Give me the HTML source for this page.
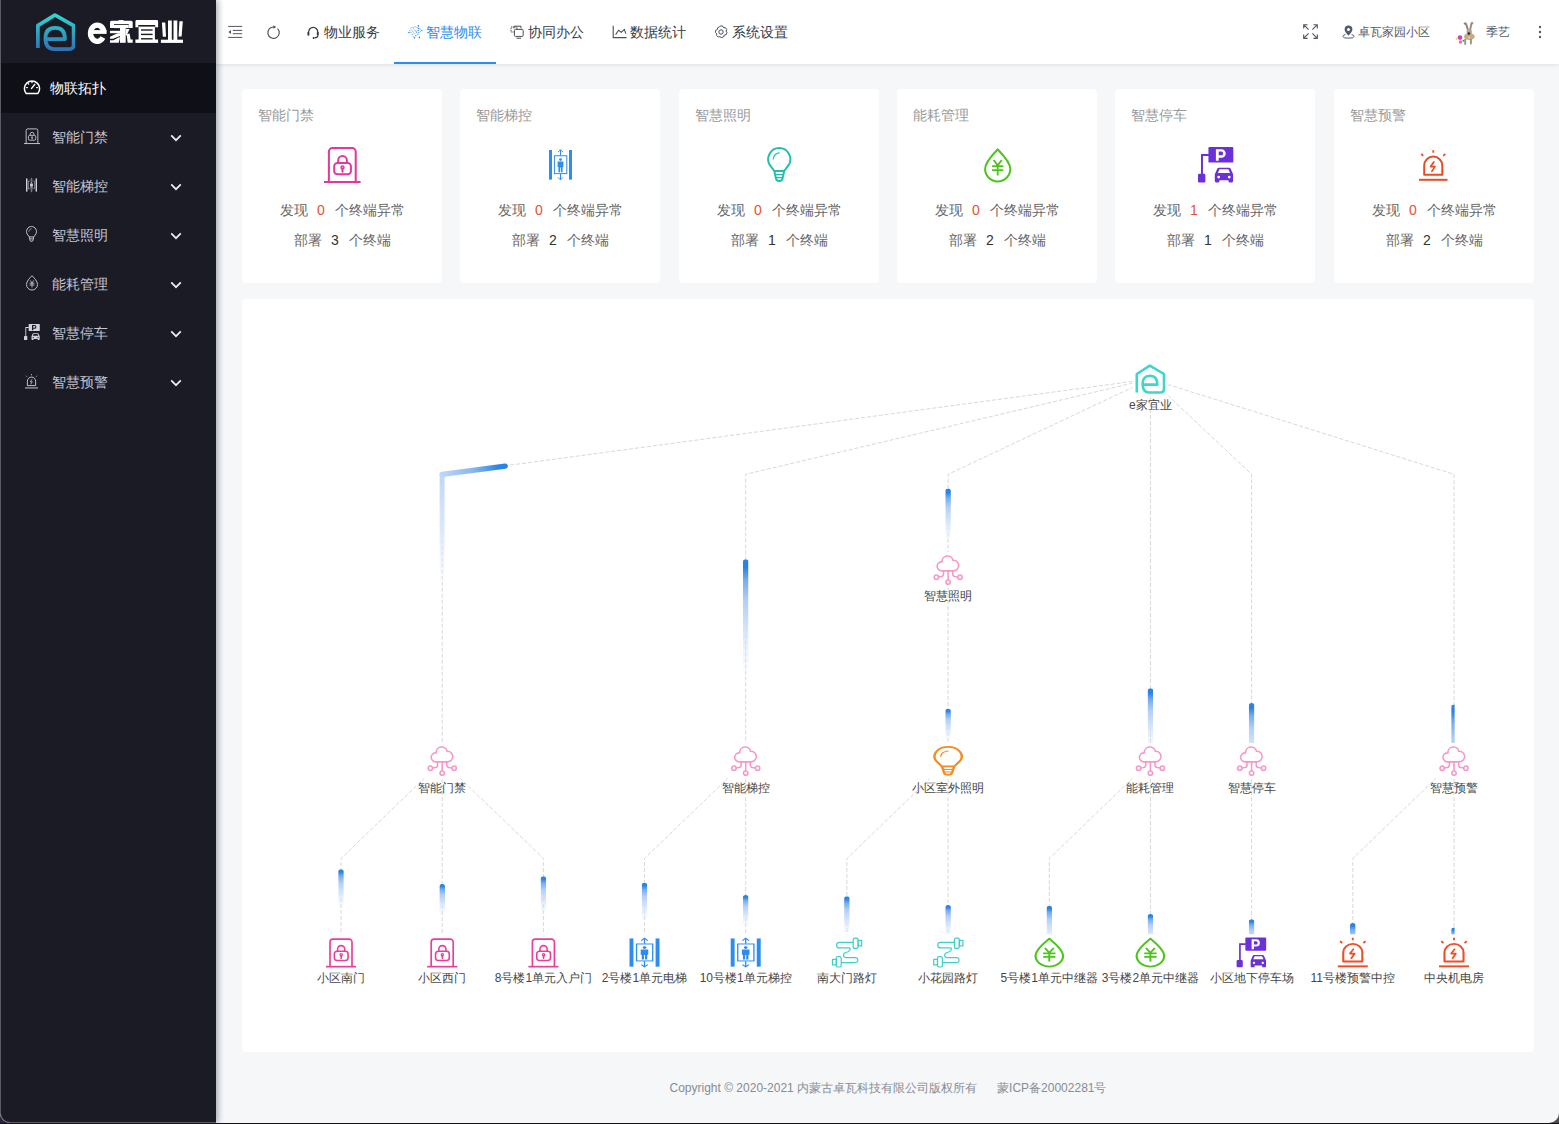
<!DOCTYPE html>
<html lang="zh"><head><meta charset="utf-8"><title>e家宜业</title>
<style>
*{box-sizing:border-box;margin:0;padding:0}
html,body{width:1559px;height:1124px;overflow:hidden;background:linear-gradient(90deg,#2a2140 0,#2a2140 30%,#4c4c4e 100%)}
body{font-family:"Liberation Sans",sans-serif;font-size:14px;color:#333;position:relative}
#win{position:absolute;left:0;top:0;width:1559px;height:1123px;background:#f5f7f9;overflow:hidden;border-radius:0 0 10px 10px}
#side{position:absolute;left:0;top:0;width:216px;height:1123px;background:#1b1b26;box-shadow:2px 0 6px rgba(0,21,41,.35);z-index:5;border-left:1px solid #5a5a66;border-bottom:1px solid #5a5a66;border-radius:0 0 0 10px}
#logo{position:absolute;left:0;top:0;width:216px;height:63px}
#logo svg.li{position:absolute;left:34.5px;top:13px}
#logo .lt{position:absolute;left:86px;top:14px;color:#fff;font-weight:bold;font-size:26px;line-height:34px;letter-spacing:-1.5px;white-space:nowrap}
#logo .lt i{font-style:normal;font-size:34px;letter-spacing:-1px}
.act{position:absolute;left:0;top:63px;width:215px;height:50px;background:#0f1017;color:#fff}
.act svg{position:absolute;left:22.3px;top:15px}
.act span{position:absolute;left:49px;top:-0.5px;line-height:50px;font-size:14px}
.mi{position:absolute;left:0;width:215px;height:49px;color:#c5c5cf}
.mi span{position:absolute;left:51px;top:0;line-height:49px;font-size:14px;letter-spacing:0}
.mi .mic{position:absolute;color:#d2d2da;--bg:#1b1b26}
.mi .chev{position:absolute;left:169px;top:21.7px}
#head{position:absolute;left:216px;top:0;width:1343px;height:64px;background:#fff;box-shadow:0 1px 4px rgba(0,21,41,.10);z-index:3}
.nav{position:absolute;top:0;height:64px;width:102px;color:#363b45;font-size:14px;line-height:64px;white-space:nowrap}
.nav svg{position:absolute;left:14px;top:25px}
.nav span{position:absolute;left:32px;top:0}
.nav.on{color:#2d8cf0;border-bottom:2px solid #2d8cf0}
.hi{position:absolute}
.hr{position:absolute;top:0;line-height:65px;font-size:12px;color:#515a6e;white-space:nowrap}
.card{position:absolute;top:89px;width:200px;height:194px;background:#fff;border-radius:4px}
.ct{position:absolute;left:16px;top:15px;font-size:14px;line-height:22px;color:#9a9a9a}
.ci{position:absolute}
.r{position:absolute;left:0;width:200px;text-align:center;font-size:14px;line-height:22px;color:#666;white-space:nowrap}
.r1{top:199px;top:110px}.r2{top:140px}
.r b{font-weight:normal;display:inline-block;width:27px;text-align:center;color:#333}
.r b.a{color:#e5522f}
#panel{position:absolute;left:242px;top:299px;width:1292px;height:753px;background:#fff;border-radius:4px}
svg.graph{position:absolute;left:0;top:0}
svg.graph text{font-size:12px;fill:#464646;text-anchor:middle;font-family:"Liberation Sans",sans-serif}
#foot{position:absolute;left:242px;top:1077px;width:1292px;text-align:center;font-size:12px;line-height:22px;color:#888c94;white-space:pre}
#btm{position:absolute;left:0;top:1123px;width:1559px;height:1px;background:#15121c}
</style></head><body>
<svg width="0" height="0" style="position:absolute"><defs>
<linearGradient id="lg" x1="0" y1="0" x2="0" y2="1"><stop offset="0" stop-color="#2fd6cf"/><stop offset="1" stop-color="#2e74b5"/></linearGradient>

<symbol id="i-lock" viewBox="0 0 36 36" preserveAspectRatio="none" overflow="visible">
 <g fill="none" stroke="currentColor" stroke-width="2" stroke-linecap="butt" stroke-linejoin="round">
  <path d="M4.8,35 V5.5 a3.5,3.5 0 0 1 3.5,-3.5 H27.7 a3.5,3.5 0 0 1 3.5,3.5 V35"/>
  <path d="M0,35 H36"/>
  <rect x="10" y="16.5" width="16.5" height="11" rx="3.2" stroke-width="1.9"/>
  <path d="M13.9,16.5 V14 a4.3,4.3 0 0 1 8.6,0 V16.5" stroke-width="1.9"/>
  <circle cx="18.2" cy="20.8" r="1.4" stroke-width="1.5"/>
  <path d="M18.2,22 V25" stroke-width="2" stroke-linecap="round"/>
 </g>
</symbol>
<symbol id="i-elev" viewBox="0 0 23 31.5" preserveAspectRatio="none" overflow="visible">
 <g fill="currentColor" stroke="none">
  <rect x="0" y="1" width="3" height="29.6"/>
  <rect x="20" y="1" width="3" height="29.6"/>
  <circle cx="11.5" cy="10.6" r="1.4"/>
  <path d="M8.6,12.6 H14.4 V18 H13.6 V23.2 H11.9 V18.5 H11.1 V23.2 H9.4 V18 H8.6 Z"/>
 </g>
 <g fill="none" stroke="currentColor" stroke-width="1">
  <rect x="5.4" y="6.8" width="12.4" height="17.8"/>
  <path d="M11.5,6.5 V1 M9,3.2 L11.5,0.7 L14,3.2 M11.5,25 V30.6 M9,28.4 L11.5,30.9 L14,28.4"/>
 </g>
</symbol>
<symbol id="i-bulb" viewBox="0 0 24.5 35.2" preserveAspectRatio="none" overflow="visible">
 <g fill="none" stroke="currentColor" stroke-width="2" stroke-linejoin="round">
  <path d="M7.3,24 L2.6,17.7 A11.1,11.1 0 1 1 21.9,17.7 L17.2,24 Z"/>
  <path d="M7.3,24 L9,31.6 Q9.5,34 12.25,34 Q15,34 15.5,31.6 L17.2,24"/>
  <path d="M8.3,27.6 H16.2 M8.9,30.6 H15.6" stroke-width="1.2"/>
  <path d="M6.2,12 A7,7 0 0 1 12.2,5.8" stroke-width="1.2" stroke-linecap="round"/>
 </g>
</symbol>
<symbol id="i-drop" viewBox="0 0 27.2 34.4" preserveAspectRatio="none" overflow="visible">
 <g fill="none" stroke="currentColor" stroke-width="2" stroke-linejoin="round">
  <path d="M13.6,1.4 C9,6.2 1.1,14 1.1,20.9 A12.5,12.5 0 0 0 26.1,20.9 C26.1,14 18.2,6.2 13.6,1.4 Z"/>
  <path d="M9.6,12 L13.6,17.4 L17.6,12 M13.6,17 V27.6 M8,18.2 H19.2 M8,22.2 H19.2" stroke-width="1.8" stroke-linejoin="miter"/>
 </g>
</symbol>
<symbol id="i-park" viewBox="0 0 36 36" preserveAspectRatio="none" overflow="visible">
 <g fill="currentColor" stroke="none">
  <rect x="10.5" y="0" width="25" height="15.8" rx="1.2"/>
  <rect x="0" y="27" width="7.4" height="8.8" rx="1.2"/>
  <path d="M3,7 H11 V9 H5 V28 H3 Z"/>
  <path d="M20.8,21 H31.4 Q32.4,21 32.8,22 L35.3,27.6 V34.4 Q35.3,35.8 34,35.8 H31.8 Q30.6,35.8 30.6,34.4 V33.6 H21.6 V34.4 Q21.6,35.8 20.4,35.8 H18.2 Q16.9,35.8 16.9,34.4 V27.6 L19.4,22 Q19.8,21 20.8,21 Z"/>
 </g>
 <g fill="var(--bg,#fff)" stroke="none">
  <path d="M21.6,22.6 H30.6 L32.2,26.2 H20 Z"/>
  <circle cx="20.8" cy="30.4" r="1.4"/><circle cx="31.4" cy="30.4" r="1.4"/>
  <path d="M18,2.2 H23.6 A4.3,4.3 0 0 1 23.6,10.8 H20.8 V14 H18 Z M20.8,4.6 V8.4 H23.4 A1.9,1.9 0 0 0 23.4,4.6 Z" fill-rule="evenodd"/>
 </g>
</symbol>
<symbol id="i-alarm" viewBox="0 0 28.5 31" preserveAspectRatio="none" overflow="visible">
 <g fill="none" stroke="currentColor" stroke-width="2" stroke-linejoin="round">
  <path d="M5.2,24.8 V15.6 a9.05,9.05 0 0 1 18.1,0 V24.8 Z"/>
  <path d="M0,29.8 H28.5"/>
  <path d="M14.25,0.2 V2.8 M2.2,3.8 L4.2,5.8 M26.3,3.8 L24.3,5.8" stroke-width="1.8"/>
  <path d="M14.8,12 L11.6,16.6 H16 L12.9,21.4" stroke-width="1.7" stroke-linecap="round"/>
 </g>
</symbol>
<symbol id="i-cloud" viewBox="-15 -15 30 30" preserveAspectRatio="none" overflow="visible">
 <g fill="none" stroke="currentColor" stroke-width="1.55" stroke-linejoin="round">
  <path d="M-6.1,0.85 H5.7 A5.3,5.3 0 1 0 4.85,-9.73 A5.5,5.5 0 0 0 -5.99,-8.1 A4.5,4.5 0 1 0 -6.1,0.85 Z"/>
  <path d="M0,0.85 V10 M-4.6,0.85 V4 Q-4.6,6.2 -6.8,6.6 L-9.7,7 M4.6,0.85 V4 Q4.6,6.2 6.8,6.6 L9.8,7"/>
  <circle cx="-11.8" cy="7.2" r="2.2"/><circle cx="0" cy="12.1" r="2.2"/><circle cx="11.9" cy="7.2" r="2.2"/>
 </g>
</symbol>
<symbol id="i-cable" viewBox="0 0 30 30" preserveAspectRatio="none" overflow="visible">
 <g fill="none" stroke="currentColor" stroke-width="1.2" stroke-linejoin="round">
  <path d="M21.3,4.9 H7.5 A2.7,2.7 0 0 0 7.5,10.4 H16.8 Q19,10.4 18,12.4 Q17,14.4 14,15 Q11.6,15.6 11.6,18 Q11.6,20.2 14.7,20.2 H24 A2.5,2.5 0 0 1 24,25.1 H9.3"/>
  <path d="M21.3,2.6 Q21.3,0.6 23,0.6 H24.8 Q26.2,0.6 26.2,2.2 V9.3 Q26.2,10.9 24.8,10.9 H23 Q21.3,10.9 21.3,8.9 Z"/>
  <rect x="26.2" y="2.8" width="3.6" height="5.6"/>
  <path d="M9.3,21.2 Q9.3,19.2 7.6,19.2 H5.8 Q4.4,19.2 4.4,20.8 V27.9 Q4.4,29.5 5.8,29.5 H7.6 Q9.3,29.5 9.3,27.5 Z"/>
  <rect x="0.6" y="21.8" width="3.8" height="5.6"/>
 </g>
</symbol>
<symbol id="i-home" viewBox="0 0 30 30" preserveAspectRatio="none" overflow="visible">
 <path fill="none" stroke="currentColor" stroke-width="2.6" stroke-linejoin="round" stroke-linecap="butt"
  d="M1.4,28.4 V10 L14.4,1.6 L28.6,10 V25 Q28.6,28.5 25,28.5 H13.6 Q7.2,28.5 7.2,20 Q7.2,11.7 14.6,11.7 Q22,11.7 22,20.6 H8"/>
</symbol>
</defs></svg>
<div id="win">
<div id="side">
 <div id="logo">
  <svg class="li" width="39.5" height="38" viewBox="0 0 30 30" preserveAspectRatio="none"><path fill="none" stroke="url(#lg)" stroke-width="2.9" stroke-linejoin="round" d="M1.4,27.6 V10 L14.4,1.6 L28.6,10 V25 Q28.6,28.5 25,28.5 H13.6 Q7.2,28.5 7.2,20 Q7.2,11.7 14.6,11.7 Q22,11.7 22,20.6 H8"/></svg>
  <svg class="ltx" width="216" height="63" viewBox="0 0 216 63" style="position:absolute;left:-1px;top:0">
   <g fill="none" stroke="#fff">
    <path d="M103.8,31.6 A6.7,8.1 0 1 0 102.9,37.6" stroke-width="5.4"/>
    <path d="M90,32 H106.6" stroke-width="3.8"/>
   </g>
   <g fill="#fff">
    <!-- jia -->
    <path d="M111.5,20.8 H131.2 Q132.7,20.8 132.7,22.3 V28 H128.7 V24.8 H114 V28 H110 V22.3 Q110,20.8 111.5,20.8 Z"/>
    <rect x="118.6" y="20.1" width="5" height="2"/>
    <rect x="114" y="24.8" width="14.7" height="3.3"/>
    <rect x="114" y="24" width="14.7" height="0.8" fill="#1b1b26"/>
    <rect x="120" y="28" width="5.7" height="14.8"/>
    <path d="M110,30.8 H120 V33.2 H110 Z"/>
    <path d="M120,33.2 V36 L113,38.8 H110 V36.8 L117.5,33.2 Z"/>
    <path d="M120,37.6 L118.8,42.8 H110 V40.2 H113.5 L119,37.2 Z"/>
    <path d="M125.7,29 H129.6 L126.6,35.4 L125.7,35.4 Z"/>
    <path d="M126.6,34.2 L129.6,33.6 L130.6,39.4 H132.7 V42.8 H127.6 Z"/>
    <!-- yi -->
    <path d="M136.8,20.1 H156.7 Q158.1,20.1 158.1,21.5 V27.2 H155.2 V25 H138.3 V27.2 H135.4 V21.5 Q135.4,20.1 136.8,20.1 Z"/>
    <rect x="138.6" y="26.6" width="16.3" height="13.4"/>
    <rect x="135.4" y="39.5" width="22.7" height="3.4"/>
    <g fill="#1b1b26"><rect x="141" y="29.3" width="11.6" height="1.4"/><rect x="141" y="33.7" width="11.6" height="1.4"/><rect x="141" y="38.1" width="11.6" height="1.4"/></g>
    <!-- ye -->
    <rect x="160.9" y="39.7" width="22.1" height="3.2"/>
    <rect x="168" y="20.5" width="3.8" height="20"/>
    <rect x="173.5" y="20.5" width="3.8" height="20"/>
    <path d="M161.9,22.6 H165.3 L166,36.8 H162.8 Z"/>
    <path d="M179.4,21.2 H182.8 L181.6,36.6 H178.6 Z"/>
   </g>
  </svg>
 </div>
 <div class="act"><svg width="18" height="18" viewBox="0 0 18 18" fill="none" stroke="#fff" stroke-width="1.5" stroke-linecap="round"><path d="M3.2,15.6 A7.6,7.6 0 1 1 14.8,15.6 Z" stroke-linejoin="round"/><path d="M8.6,10.4 L11.8,6.4"/><path d="M3.6,9.6 h0.8 M5.2,5.6 l0.5,0.5 M9,4 v0.7 M13.6,9.6 h0.8" stroke-width="1.3"/></svg><span>物联拓扑</span></div>
<div class="mi" style="top:112.8px"><svg class="mic" overflow="visible" style="left:22.8px;top:15.3px" width="16" height="16"><use href="#i-lock" width="16" height="16"/></svg><span>智能门禁</span><svg class="chev" width="12" height="8" viewBox="0 0 12 8"><path d="M1.2,1.4 L6,6.2 L10.8,1.4" fill="none" stroke="#ededf2" stroke-width="1.7"/></svg></div>
<div class="mi" style="top:161.8px"><svg class="mic" overflow="visible" style="left:25.3px;top:16.3px" width="11" height="14"><use href="#i-elev" width="11" height="14"/></svg><span>智能梯控</span><svg class="chev" width="12" height="8" viewBox="0 0 12 8"><path d="M1.2,1.4 L6,6.2 L10.8,1.4" fill="none" stroke="#ededf2" stroke-width="1.7"/></svg></div>
<div class="mi" style="top:210.8px"><svg class="mic" overflow="visible" style="left:25.3px;top:15.3px" width="11" height="16"><use href="#i-bulb" width="11" height="16"/></svg><span>智慧照明</span><svg class="chev" width="12" height="8" viewBox="0 0 12 8"><path d="M1.2,1.4 L6,6.2 L10.8,1.4" fill="none" stroke="#ededf2" stroke-width="1.7"/></svg></div>
<div class="mi" style="top:259.8px"><svg class="mic" overflow="visible" style="left:24.8px;top:15.55px" width="12" height="15.5"><use href="#i-drop" width="12" height="15.5"/></svg><span>能耗管理</span><svg class="chev" width="12" height="8" viewBox="0 0 12 8"><path d="M1.2,1.4 L6,6.2 L10.8,1.4" fill="none" stroke="#ededf2" stroke-width="1.7"/></svg></div>
<div class="mi" style="top:308.8px"><svg class="mic" overflow="visible" style="left:22.8px;top:15.3px" width="16" height="16"><use href="#i-park" width="16" height="16"/></svg><span>智慧停车</span><svg class="chev" width="12" height="8" viewBox="0 0 12 8"><path d="M1.2,1.4 L6,6.2 L10.8,1.4" fill="none" stroke="#ededf2" stroke-width="1.7"/></svg></div>
<div class="mi" style="top:357.8px"><svg class="mic" overflow="visible" style="left:24.3px;top:16.05px" width="13" height="14.5"><use href="#i-alarm" width="13" height="14.5"/></svg><span>智慧预警</span><svg class="chev" width="12" height="8" viewBox="0 0 12 8"><path d="M1.2,1.4 L6,6.2 L10.8,1.4" fill="none" stroke="#ededf2" stroke-width="1.7"/></svg></div>
</div>
<div id="head">
 <svg class="hi" style="left:12px;top:25px" width="15" height="14" viewBox="0 0 15 14" fill="none" stroke="#50545c" stroke-width="1"><path d="M0.2,1.4 H14.2 M4.8,5.4 H14.2 M4.8,8.7 H14.2 M0.2,12.4 H14.2"/><path d="M3,5 L0.4,7 L3,9 Z" fill="#50545c" stroke="none"/></svg>
 <svg class="hi" style="left:49.5px;top:24.5px" width="15" height="15" viewBox="0 0 15 15" fill="none" stroke="#4a4e57" stroke-width="1.1"><path d="M11.6,3.7 A5.7,5.7 0 1 1 8,2"/><path d="M7.4,0.2 L10.1,2 L7.4,3.8 Z" fill="#4a4e57" stroke="none"/></svg>
 <div class="nav" style="left:76px"><svg width="14" height="14" viewBox="0 0 14 14" fill="none" stroke="#363b45" stroke-width="1.2"><path d="M2.6,7.2 A4.6,4.9 0 0 1 11.8,7.2"/><rect x="1.4" y="6.8" width="2" height="4" rx="1" fill="#363b45" stroke="none"/><rect x="10.8" y="6.8" width="2" height="4" rx="1" fill="#363b45" stroke="none"/><path d="M11.8,10.6 Q11.6,12.8 8.6,12.9" /><circle cx="7.6" cy="12.9" r="1" fill="#363b45" stroke="none"/></svg><span>物业服务</span></div>
 <div class="nav on" style="left:178px"><svg width="15" height="14" viewBox="0 0 15 14" fill="none" stroke="#5a9ff0" stroke-width="1" stroke-dasharray="1.2 1"><path d="M2.4,3.2 L7,1.6 L12.6,4 M1.6,5.2 L6.2,13 L13.6,5.6 M3.4,4.6 L8,11 M5.6,3.4 L10,9.4 M10.4,0.6 V8 M12.6,4 L7,7"/><g fill="#2d8cf0" stroke="none"><circle cx="10.4" cy="0.8" r="0.8"/><circle cx="0.9" cy="7.6" r="0.8"/><circle cx="11.4" cy="12.4" r="0.8"/><circle cx="6.4" cy="13" r="0.7"/><circle cx="13.8" cy="5.4" r="0.7"/></g></svg><span>智慧物联</span></div>
 <div class="nav" style="left:280px"><svg width="14" height="14" viewBox="0 0 14 14" fill="none" stroke="#4a4e57" stroke-width="1"><path d="M4,3.4 V1.2 H11 V3.4" stroke-dasharray="none"/><rect x="1" y="2" width="6" height="5" stroke-dasharray="1.4 0.8"/><rect x="4.4" y="4.4" width="8.8" height="7" rx="1" fill="#fff"/><path d="M6.4,13.2 H11.2"/></svg><span>协同办公</span></div>
 <div class="nav" style="left:382px"><svg width="15" height="14" viewBox="0 0 15 14" fill="none" stroke="#4a4e57" stroke-width="1.1"><path d="M1.2,0.8 V12.6 H14.6"/><path d="M3.6,9.6 L6.6,5.2 L9.2,7.4 L12.4,4.4 L13.8,8.6" stroke-linejoin="round"/></svg><span>数据统计</span></div>
 <div class="nav" style="left:484px"><svg width="14" height="14" viewBox="0 0 14 14" fill="none" stroke="#4a4e57" stroke-width="1"><circle cx="7" cy="7" r="2.2"/><path d="M7,0.8 L9,1.4 L9.6,2.8 L11.4,2.6 L12.8,4.6 L12,6 L13,7.6 L12,9.8 L10.4,10 L9.6,11.8 L7.2,12.6 L6,11.6 L4.2,12 L2.6,10.4 L2.8,8.8 L1.4,7.6 L1.8,5.2 L3.4,4.4 L3.6,2.8 L5.6,1.6 Z" stroke-linejoin="round"/></svg><span>系统设置</span></div>
 <svg class="hi" style="left:1086.5px;top:23.5px" width="15" height="15" viewBox="0 0 15 15" fill="none" stroke="#515a6e" stroke-width="1.15"><path d="M0.7,4.6 V0.7 H4.6 M10.4,0.7 H14.3 V4.6 M14.3,10.4 V14.3 H10.4 M4.6,14.3 H0.7 V10.4 M0.7,0.7 L5.6,5.6 M14.3,0.7 L9.4,5.6 M14.3,14.3 L9.4,9.4 M0.7,14.3 L5.6,9.4"/></svg>
 <svg class="hi" style="left:1126px;top:25px" width="13" height="14" viewBox="0 0 13 14"><path d="M6.5,0.6 A3.9,3.9 0 0 1 10.4,4.5 C10.4,7 6.5,10.6 6.5,10.6 C6.5,10.6 2.6,7 2.6,4.5 A3.9,3.9 0 0 1 6.5,0.6 Z M6.5,3 A1.5,1.5 0 1 0 6.5,6 A1.5,1.5 0 1 0 6.5,3 Z" fill="#515a6e" fill-rule="evenodd"/><path d="M3.4,9.6 Q0.8,10.2 0.8,11.4 Q0.8,13.2 6.5,13.2 Q12.2,13.2 12.2,11.4 Q12.2,10.2 9.6,9.6" fill="none" stroke="#515a6e" stroke-width="1"/></svg>
 <div class="hr" style="left:1142px">卓瓦家园小区</div>
 <svg class="hi" style="left:1237px;top:20px" width="26" height="26" viewBox="0 0 26 26">
  <path d="M11.6,3.6 Q12.6,2.6 13.2,4.4 L15.4,11.2" fill="none" stroke="#8f857a" stroke-width="2" stroke-linecap="round"/>
  <path d="M19.4,3.2 Q18.4,2.6 18.2,4.6 L17,10.6" fill="none" stroke="#9a8f83" stroke-width="2" stroke-linecap="round"/>
  <ellipse cx="16.2" cy="12" rx="2.7" ry="3" fill="#b3a592"/>
  <ellipse cx="16.4" cy="16.6" rx="5.4" ry="3.5" fill="#c6aa84"/>
  <circle cx="15.9" cy="13.6" r="1.35" fill="#3d3232"/>
  <ellipse cx="16.2" cy="17.6" rx="1.5" ry="1.1" fill="#dcc9a6"/>
  <path d="M12.2,19.4 V24 M17.9,19.4 V23.6" stroke="#9c917f" stroke-width="1.9" stroke-linecap="round"/>
  <circle cx="7" cy="17.6" r="2.3" fill="#d63bc6"/><circle cx="7.4" cy="22" r="1.7" fill="#ef6f8f"/><circle cx="3.6" cy="19" r="0.9" fill="#f0d54a"/><circle cx="10.3" cy="20.8" r="1" fill="#3c9f7a"/>
 </svg>
 <div class="hr" style="left:1270px">季艺</div>
 <svg class="hi" style="left:1322px;top:25px" width="4" height="14" viewBox="0 0 4 14" fill="#515a6e"><circle cx="2" cy="2" r="1.2"/><circle cx="2" cy="7" r="1.2"/><circle cx="2" cy="12" r="1.2"/></svg>
</div>
<div class="card" style="left:242px"><div class="ct">智能门禁</div><svg class="ci" overflow="visible" style="left:81.9px;top:57px" width="36.6" height="37" color="#e4369b"><use href="#i-lock" width="36.6" height="37"/></svg><div class="r r1">发现<b class="a">0</b>个终端异常</div><div class="r r2">部署<b>3</b>个终端</div></div>
<div class="card" style="left:460px"><div class="ct">智能梯控</div><svg class="ci" overflow="visible" style="left:88.5px;top:60.05px" width="23" height="31.5" color="#2d8cf0"><use href="#i-elev" width="23" height="31.5"/></svg><div class="r r1">发现<b class="a">0</b>个终端异常</div><div class="r r2">部署<b>2</b>个终端</div></div>
<div class="card" style="left:679px"><div class="ct">智慧照明</div><svg class="ci" overflow="visible" style="left:87.75px;top:58.3px" width="24.5" height="35.2" color="#1fbfb0"><use href="#i-bulb" width="24.5" height="35.2"/></svg><div class="r r1">发现<b class="a">0</b>个终端异常</div><div class="r r2">部署<b>1</b>个终端</div></div>
<div class="card" style="left:897px"><div class="ct">能耗管理</div><svg class="ci" overflow="visible" style="left:86.7px;top:58.9px" width="27.4" height="34.4" color="#4fc31d"><use href="#i-drop" width="27.4" height="34.4"/></svg><div class="r r1">发现<b class="a">0</b>个终端异常</div><div class="r r2">部署<b>2</b>个终端</div></div>
<div class="card" style="left:1115px"><div class="ct">智慧停车</div><svg class="ci" overflow="visible" style="left:82.9px;top:58px" width="35.8" height="35.6" color="#6c30d9"><use href="#i-park" width="35.8" height="35.6"/></svg><div class="r r1">发现<b class="a">1</b>个终端异常</div><div class="r r2">部署<b>1</b>个终端</div></div>
<div class="card" style="left:1334px"><div class="ct">智慧预警</div><svg class="ci" overflow="visible" style="left:85.05px;top:61px" width="28.5" height="31" color="#e84c27"><use href="#i-alarm" width="28.5" height="31"/></svg><div class="r r1">发现<b class="a">0</b>个终端异常</div><div class="r r2">部署<b>2</b>个终端</div></div>
<div id="panel"></div>
<div style="position:absolute;left:242px;top:299px;width:1292px;height:753px"><svg class="graph" width="1292" height="753" viewBox="242 299 1292 753">
<defs><linearGradient id="tg" x1="0" y1="0" x2="0" y2="1"><stop offset="0" stop-color="#2a83e6"/><stop offset="0.07" stop-color="#2a83e6"/><stop offset="0.17" stop-color="#74acef"/><stop offset="0.34" stop-color="#aecdf5" stop-opacity=".95"/><stop offset="0.56" stop-color="#cbdff9" stop-opacity=".85"/><stop offset="1" stop-color="#e6effc" stop-opacity="0"/></linearGradient><linearGradient id="tg2" gradientUnits="userSpaceOnUse" x1="505" y1="466" x2="442" y2="474"><stop offset="0" stop-color="#2a83e6"/><stop offset="0.12" stop-color="#2d86e7"/><stop offset="0.5" stop-color="#86b6f0"/><stop offset="1" stop-color="#bfd6f6"/></linearGradient><linearGradient id="tg3" gradientUnits="userSpaceOnUse" x1="0" y1="474" x2="0" y2="585"><stop offset="0" stop-color="#bfd6f6"/><stop offset="0.5" stop-color="#d6e4f9" stop-opacity=".8"/><stop offset="1" stop-color="#dfeafa" stop-opacity="0"/></linearGradient></defs>
<g fill="none" stroke="#d8d8d8" stroke-width="1" stroke-dasharray="4 2">
<path d="M1150.4,379 L442.2,474.3 L442.2,761"/>
<path d="M1150.4,379 L745.7,474.3 L745.7,761"/>
<path d="M1150.4,379 L948.1,474.3 L948.1,570"/>
<path d="M1150.4,379 L1251.6,474.3 L1251.6,761"/>
<path d="M1150.4,379 L1454,474.3 L1454,761"/>
<path d="M1150.4,379 L1150.4,761"/>
<path d="M948.1,570 L948.1,761"/>
<path d="M442.2,761 L341,858.5 L341,952.5"/>
<path d="M442.2,761 L442.2,952.5"/>
<path d="M442.2,761 L543.4,858.5 L543.4,952.5"/>
<path d="M745.7,761 L644.5,858.5 L644.5,952.5"/>
<path d="M745.7,761 L745.7,952.5"/>
<path d="M948.1,761 L846.9,858.5 L846.9,952.5"/>
<path d="M948.1,761 L948.1,952.5"/>
<path d="M1150.4,761 L1049.3,858.5 L1049.3,952.5"/>
<path d="M1150.4,761 L1150.4,952.5"/>
<path d="M1251.6,761 L1251.6,952.5"/>
<path d="M1454,761 L1352.8,858.5 L1352.8,952.5"/>
<path d="M1454,761 L1454,952.5"/>
</g>
<path d="M442.1,474.3 V585" stroke="url(#tg3)" stroke-width="5" fill="none"/>
<path d="M505.2,466.2 L442.1,474.3" stroke="url(#tg2)" stroke-width="5.2" stroke-linecap="round" fill="none"/>
<svg x="742.9" y="559.2" width="5.6" height="140.8"><rect x="0" y="0" width="5.6" height="121" rx="2.8" fill="url(#tg)"/></svg>
<svg x="945.3" y="488.5" width="5.6" height="63.5"><rect x="0" y="0" width="5.6" height="55" rx="2.8" fill="url(#tg)"/></svg>
<svg x="945.3" y="708.7" width="5.6" height="34.3"><rect x="0" y="0" width="5.6" height="33" rx="2.8" fill="url(#tg)"/></svg>
<svg x="1147.6" y="688.3" width="5.6" height="54.7"><rect x="0" y="0" width="5.6" height="66" rx="2.8" fill="url(#tg)"/></svg>
<svg x="1248.8" y="703" width="5.6" height="40"><rect x="0" y="0" width="5.6" height="73" rx="2.8" fill="url(#tg)"/></svg>
<svg x="1451.2" y="704.6" width="3.4" height="38.4"><rect x="0" y="0" width="5.6" height="104" rx="2.8" fill="url(#tg)"/></svg>
<svg x="338.2" y="869.2" width="5.6" height="65.3"><rect x="0" y="0" width="5.6" height="40" rx="2.8" fill="url(#tg)"/></svg>
<svg x="439.4" y="883.9" width="5.6" height="50.6"><rect x="0" y="0" width="5.6" height="33" rx="2.8" fill="url(#tg)"/></svg>
<svg x="540.6" y="876.2" width="5.6" height="58.3"><rect x="0" y="0" width="5.6" height="40" rx="2.8" fill="url(#tg)"/></svg>
<svg x="641.7" y="882.7" width="5.6" height="51.8"><rect x="0" y="0" width="5.6" height="40" rx="2.8" fill="url(#tg)"/></svg>
<svg x="742.9" y="895" width="5.6" height="39.5"><rect x="0" y="0" width="5.6" height="33" rx="2.8" fill="url(#tg)"/></svg>
<svg x="844.1" y="896.2" width="5.6" height="38.3"><rect x="0" y="0" width="5.6" height="40" rx="2.8" fill="url(#tg)"/></svg>
<svg x="945.3" y="905" width="5.6" height="29.5"><rect x="0" y="0" width="5.6" height="33" rx="2.8" fill="url(#tg)"/></svg>
<svg x="1046.5" y="905.8" width="5.6" height="28.7"><rect x="0" y="0" width="5.6" height="40" rx="2.8" fill="url(#tg)"/></svg>
<svg x="1147.6" y="914" width="5.6" height="20.5"><rect x="0" y="0" width="5.6" height="33" rx="2.8" fill="url(#tg)"/></svg>
<svg x="1248.8" y="919.3" width="5.6" height="15.2"><rect x="0" y="0" width="5.6" height="33" rx="2.8" fill="url(#tg)"/></svg>
<svg x="1350" y="923" width="5.6" height="11.5"><rect x="0" y="0" width="5.6" height="40" rx="2.8" fill="url(#tg)"/></svg>
<svg x="1451.2" y="927.5" width="3.4" height="7"><rect x="0" y="0" width="5.6" height="33" rx="2.8" fill="url(#tg)"/></svg>
<rect x="1132.4" y="361" width="36" height="36" fill="#fff"/>
<use href="#i-home" x="1135.4" y="364" width="30" height="30" color="#3dd6cf"/>
<text x="1150.4" y="409">e家宜业</text>
<rect x="930.1" y="552" width="36" height="36" fill="#fff"/>
<use href="#i-cloud" x="933.1" y="555" width="30" height="30" color="#f797c9"/>
<text x="948.1" y="600">智慧照明</text>
<rect x="424.2" y="743" width="36" height="36" fill="#fff"/>
<use href="#i-cloud" x="427.2" y="746" width="30" height="30" color="#f797c9"/>
<text x="442.2" y="792">智能门禁</text>
<rect x="727.7" y="743" width="36" height="36" fill="#fff"/>
<use href="#i-cloud" x="730.7" y="746" width="30" height="30" color="#f797c9"/>
<text x="745.7" y="792">智能梯控</text>
<rect x="930.1" y="743" width="36" height="36" fill="#fff"/>
<use href="#i-bulb" x="933.1" y="746" width="30" height="30" color="#f68a1e"/>
<text x="948.1" y="792">小区室外照明</text>
<rect x="1132.4" y="743" width="36" height="36" fill="#fff"/>
<use href="#i-cloud" x="1135.4" y="746" width="30" height="30" color="#f797c9"/>
<text x="1150.4" y="792">能耗管理</text>
<rect x="1233.6" y="743" width="36" height="36" fill="#fff"/>
<use href="#i-cloud" x="1236.6" y="746" width="30" height="30" color="#f797c9"/>
<text x="1251.6" y="792">智慧停车</text>
<rect x="1436" y="743" width="36" height="36" fill="#fff"/>
<use href="#i-cloud" x="1439" y="746" width="30" height="30" color="#f797c9"/>
<text x="1454" y="792">智慧预警</text>
<rect x="323" y="934.5" width="36" height="36" fill="#fff"/>
<use href="#i-lock" x="326" y="937.5" width="30" height="30" color="#ec3d9a"/>
<text x="341" y="982">小区南门</text>
<rect x="424.2" y="934.5" width="36" height="36" fill="#fff"/>
<use href="#i-lock" x="427.2" y="937.5" width="30" height="30" color="#ec3d9a"/>
<text x="442.2" y="982">小区西门</text>
<rect x="525.4" y="934.5" width="36" height="36" fill="#fff"/>
<use href="#i-lock" x="528.4" y="937.5" width="30" height="30" color="#ec3d9a"/>
<text x="543.4" y="982">8号楼1单元入户门</text>
<rect x="626.5" y="934.5" width="36" height="36" fill="#fff"/>
<use href="#i-elev" x="629.5" y="937.5" width="30" height="30" color="#2d8cf0"/>
<text x="644.5" y="982">2号楼1单元电梯</text>
<rect x="727.7" y="934.5" width="36" height="36" fill="#fff"/>
<use href="#i-elev" x="730.7" y="937.5" width="30" height="30" color="#2d8cf0"/>
<text x="745.7" y="982">10号楼1单元梯控</text>
<rect x="828.9" y="934.5" width="36" height="36" fill="#fff"/>
<use href="#i-cable" x="831.9" y="937.5" width="30" height="30" color="#3fcfc6"/>
<text x="846.9" y="982">南大门路灯</text>
<rect x="930.1" y="934.5" width="36" height="36" fill="#fff"/>
<use href="#i-cable" x="933.1" y="937.5" width="30" height="30" color="#3fcfc6"/>
<text x="948.1" y="982">小花园路灯</text>
<rect x="1031.3" y="934.5" width="36" height="36" fill="#fff"/>
<use href="#i-drop" x="1034.3" y="937.5" width="30" height="30" color="#4fc31d"/>
<text x="1049.3" y="982">5号楼1单元中继器</text>
<rect x="1132.4" y="934.5" width="36" height="36" fill="#fff"/>
<use href="#i-drop" x="1135.4" y="937.5" width="30" height="30" color="#4fc31d"/>
<text x="1150.4" y="982">3号楼2单元中继器</text>
<rect x="1233.6" y="934.5" width="36" height="36" fill="#fff"/>
<use href="#i-park" x="1236.6" y="937.5" width="30" height="30" color="#6c30d9"/>
<text x="1251.6" y="982">小区地下停车场</text>
<rect x="1334.8" y="934.5" width="36" height="36" fill="#fff"/>
<use href="#i-alarm" x="1337.8" y="937.5" width="30" height="30" color="#ee4d28"/>
<text x="1352.8" y="982">11号楼预警中控</text>
<rect x="1436" y="934.5" width="36" height="36" fill="#fff"/>
<use href="#i-alarm" x="1439" y="937.5" width="30" height="30" color="#ee4d28"/>
<text x="1454" y="982">中央机电房</text>
</svg></div>
<div id="foot">Copyright © 2020-2021 内蒙古卓瓦科技有限公司版权所有      蒙ICP备20002281号</div>
</div>
<div id="btm"></div>
</body></html>
